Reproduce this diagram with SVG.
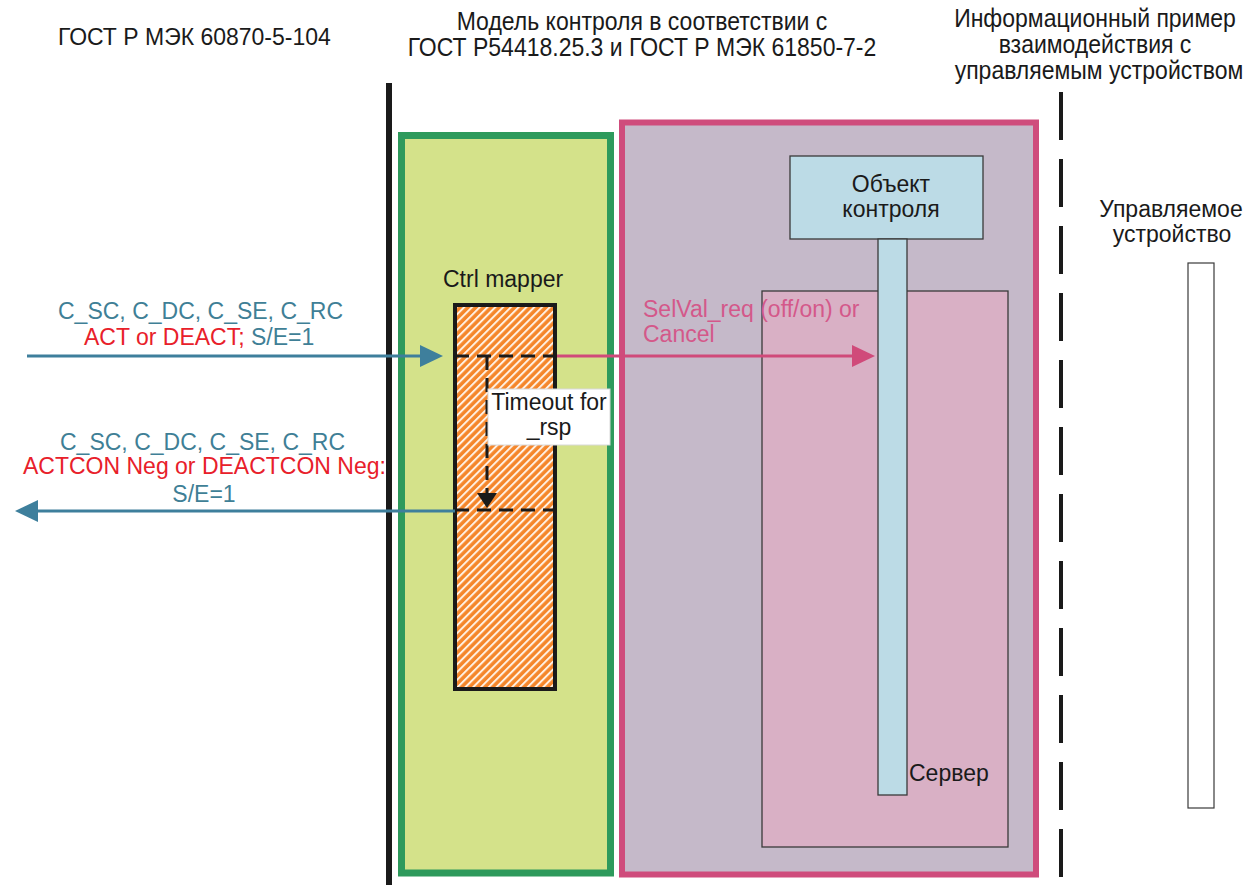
<svg xmlns="http://www.w3.org/2000/svg" width="1260" height="885" viewBox="0 0 1260 885">
<style>
text{font-family:"Liberation Sans",Arial,sans-serif;font-size:23px;fill:#1a1a1a}
.mid{text-anchor:middle}
.teal{fill:#3f7f96}
.red{fill:#e8202a}
.pk{fill:#d4588a}
.thin{stroke:#3a3a3a;stroke-width:1.3}
</style>
<defs>
<pattern id="hatch" patternUnits="userSpaceOnUse" width="5.5" height="5.5" patternTransform="rotate(45)">
<rect width="5.5" height="5.5" fill="#f5862a"/>
<rect width="2" height="5.5" fill="#fff1e4"/>
</pattern>
<marker id="ahBlue" markerUnits="userSpaceOnUse" markerWidth="24" markerHeight="24" refX="0" refY="11" orient="auto" viewBox="0 0 24 24">
<path d="M0,0 L23,11 L0,22 z" fill="#3e7f9c"/>
</marker>
<marker id="ahPink" markerUnits="userSpaceOnUse" markerWidth="24" markerHeight="24" refX="0" refY="11" orient="auto" viewBox="0 0 24 24">
<path d="M0,0 L23,11 L0,22 z" fill="#d04a7a"/>
</marker>
<marker id="ahBlack" markerUnits="userSpaceOnUse" markerWidth="16" markerHeight="22" refX="0" refY="10" orient="auto" viewBox="0 0 16 22">
<path d="M0,0 L15,10 L0,20 z" fill="#1a1a1a"/>
</marker>
</defs>
<rect width="1260" height="885" fill="#ffffff"/>

<g id="headings">
<text x="58" y="41.7" transform="scale(1,1.08)">ГОСТ Р МЭК 60870-5-104</text>
<g transform="scale(1,1.13)">
<text class="mid" x="642" y="26.5">Модель контроля в соответствии с</text>
<text class="mid" x="642" y="49.6">ГОСТ Р54418.25.3 и ГОСТ Р МЭК 61850-7-2</text>
<text class="mid" x="1095" y="23.9">Информационный пример</text>
<text class="mid" x="1095" y="46.9">взаимодействия с</text>
<text class="mid" x="1099" y="69.9">управляемым устройством</text>
</g>
</g>

<g id="boundary-left">
<line x1="389" y1="83" x2="389" y2="885" stroke="#1a1a1a" stroke-width="6"/>
</g>
<g id="boundary-right">
<line x1="1061" y1="92" x2="1061" y2="885" stroke="#1a1a1a" stroke-width="4" stroke-dasharray="48 19"/>
</g>

<g id="mapping-area">
<rect x="401.5" y="135.5" width="209" height="737.5" fill="#d4e28a" stroke="#2e9a5c" stroke-width="7"/>
</g>

<g id="control-model">
<rect x="622" y="122.5" width="414" height="752" fill="#c5b9c9" stroke="#cf4c7c" stroke-width="6"/>
</g>

<g id="server">
<rect x="762" y="291" width="246" height="556" fill="#d9b0c5" class="thin"/>
<text x="909" y="781">Сервер</text>
</g>

<g id="control-object">
<rect x="790" y="156" width="193" height="83" fill="#bcdbe6" class="thin"/>
<rect x="878" y="239" width="29" height="556" fill="#bcdbe6" class="thin"/>
<text class="mid" x="891" y="192">Объект</text>
<text class="mid" x="891" y="217">контроля</text>
</g>

<g id="ctrl-mapper">
<text x="443" y="287">Ctrl mapper</text>
<rect x="455" y="305" width="100" height="384" fill="url(#hatch)" stroke="#1a1a1a" stroke-width="4"/>
</g>

<g id="controlled-device">
<text class="mid" x="1171" y="217">Управляемое</text>
<text class="mid" x="1172" y="242">устройство</text>
<rect x="1188" y="263" width="26" height="545" fill="#ffffff" stroke="#3a3a3a" stroke-width="1.2"/>
</g>

<g id="connectors">
<line x1="455" y1="356" x2="555" y2="356" stroke="#1a1a1a" stroke-width="3" stroke-dasharray="14 8"/>
<line x1="455" y1="510" x2="555" y2="510" stroke="#1a1a1a" stroke-width="3" stroke-dasharray="14 8"/>
<line x1="487" y1="356" x2="487" y2="493" stroke="#1a1a1a" stroke-width="3" stroke-dasharray="14 8" marker-end="url(#ahBlack)"/>
<line x1="27" y1="356" x2="420" y2="356" stroke="#3e7f9c" stroke-width="3" marker-end="url(#ahBlue)"/>
<line x1="455" y1="511" x2="38" y2="511" stroke="#3e7f9c" stroke-width="3" marker-end="url(#ahBlue)"/>
<line x1="557" y1="356" x2="852" y2="356" stroke="#d04a7a" stroke-width="3" marker-end="url(#ahPink)"/>
</g>

<g id="timeout-label">
<rect x="488" y="389" width="122" height="56" fill="#ffffff" stroke="#d8d8d8" stroke-width="1"/>
<text class="mid" x="549" y="410">Timeout for</text>
<text class="mid" x="549" y="435">_rsp</text>
</g>

<g id="labels">
<text class="teal" x="58" y="319">C_SC, C_DC, C_SE, C_RC</text>
<text x="84" y="345"><tspan class="red">ACT or DEACT;</tspan><tspan class="teal"> S/E=1</tspan></text>
<text class="teal" x="60" y="450">C_SC, C_DC, C_SE, C_RC</text>
<text class="red" x="23" y="474">ACTCON Neg or DEACTCON Neg:</text>
<text class="teal mid" x="204" y="502">S/E=1</text>
<text class="pk" x="643" y="317">SelVal_req (off/on) or</text>
<text class="pk" x="643" y="342">Cancel</text>
</g>
</svg>
